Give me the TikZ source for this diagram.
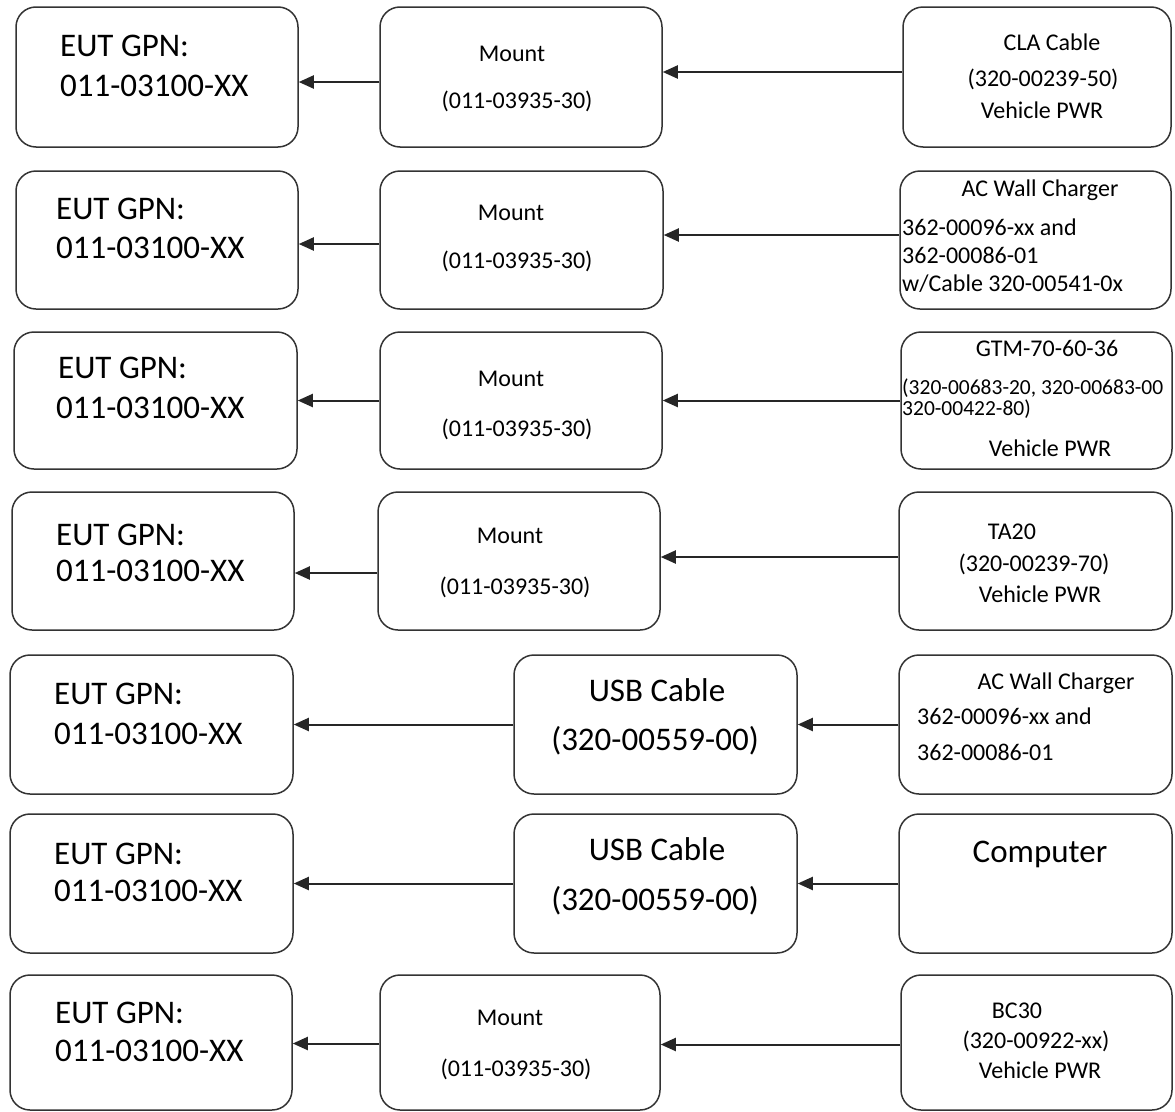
\documentclass[tikz,border=0pt]{standalone}
\usepackage{fontspec}
\setmainfont{Carlito}
\usetikzlibrary{arrows.meta,fit}
\begin{document}
\begin{tikzpicture}[x=1pt,y=-1pt,
 box/.style={draw=black!80, line width=1.5pt, rounded corners=20pt, inner sep=0pt},
 arr/.style={draw=black!85, line width=2pt, -{Triangle[length=15pt,width=13pt]}},
 eut/.style={font=\fontsize{33}{40}\selectfont, anchor=mid west, inner sep=0pt, yshift=-4pt},
 mnt/.style={font=\fontsize{24}{29}\selectfont, anchor=mid, inner sep=0pt, yshift=-4pt},
 usb/.style={font=\fontsize{33}{40}\selectfont, anchor=mid, inner sep=0pt, yshift=-4pt},
 rtc/.style={font=\fontsize{24}{29}\selectfont, anchor=mid, inner sep=0pt, yshift=-4pt},
 rtl/.style={font=\fontsize{24}{29}\selectfont, anchor=mid west, inner sep=0pt, yshift=-4pt},
 rts/.style={font=\fontsize{21.5}{25}\selectfont, anchor=mid west, inner sep=0pt, yshift=-3pt},
]
\fill[white] (0,0) rectangle (1175,1111);
\useasboundingbox (0,0) rectangle (1175,1111);

% Row 1
\node[box, fit={(16,7)(298,147)}] (l1) {};
\node[box, fit={(380,7)(662,147)}] (m1) {};
\node[box, fit={(903,7)(1171,147)}] (r1) {};
\node[eut] (l1a) at (60,50) {EUT GPN:};
\node[eut] (l1b) at (60,90) {011-03100-XX};
\node[mnt] (m1a) at (512,55) {Mount};
\node[mnt] (m1b) at (517,102) {(011-03935-30)};
\node[rtc] (r1a) at (1052,44) {CLA Cable};
\node[rtc] (r1b) at (1043,80) {(320-00239-50)};
\node[rtc] (r1c) at (1042,112) {Vehicle PWR};
\draw[arr] ([yshift=-5pt]m1.west) -- ([yshift=-5pt]l1.east);
\draw[arr] ([yshift=5pt]r1.west) -- ([yshift=5pt]m1.east);

% Row 2
\node[box, fit={(16,171)(298,309)}] (l2) {};
\node[box, fit={(380,171)(663,309)}] (m2) {};
\node[box, fit={(900,171)(1171,309)}] (r2) {};
\node[eut] (l2a) at (56,213) {EUT GPN:};
\node[eut] (l2b) at (56,252) {011-03100-XX};
\node[mnt] (m2a) at (511,214) {Mount};
\node[mnt] (m2b) at (517,262) {(011-03935-30)};
\node[rtc] (r2a) at (1040,190) {AC Wall Charger};
\node[rtl] (r2b) at (902,229) {362-00096-xx and};
\node[rtl] (r2c) at (902,257) {362-00086-01};
\node[rtl] (r2d) at (902,285) {w/Cable 320-00541-0x};
\draw[arr] ([yshift=-4pt]m2.west) -- ([yshift=-4pt]l2.east);
\draw[arr] ([yshift=5pt]r2.west) -- ([yshift=5pt]m2.east);

% Row 3
\node[box, fit={(14,332)(297,469)}] (l3) {};
\node[box, fit={(380,332)(662,469)}] (m3) {};
\node[box, fit={(901,332)(1172,469)}] (r3) {};
\node[eut] (l3a) at (58,372) {EUT GPN:};
\node[eut] (l3b) at (56,412) {011-03100-XX};
\node[mnt] (m3a) at (511,380) {Mount};
\node[mnt] (m3b) at (517,430) {(011-03935-30)};
\node[rtc] (r3a) at (1047,350) {GTM-70-60-36};
\node[rts] (r3b) at (902,389) {(320-00683-20, 320-00683-00};
\node[rts] (r3c) at (902,410) {320-00422-80)};
\node[rtc] (r3d) at (1050,450) {Vehicle PWR};
\draw[arr] (m3.west) -- (l3.east);
\draw[arr] (r3.west) -- (m3.east);

% Row 4
\node[box, fit={(12,492)(294,630)}] (l4) {};
\node[box, fit={(378,492)(660,630)}] (m4) {};
\node[box, fit={(899,492)(1172,630)}] (r4) {};
\node[eut] (l4a) at (56,539) {EUT GPN:};
\node[eut] (l4b) at (56,575) {011-03100-XX};
\node[mnt] (m4a) at (510,537) {Mount};
\node[mnt] (m4b) at (515,588) {(011-03935-30)};
\node[rtc] (r4a) at (1012,533) {TA20};
\node[rtc] (r4b) at (1034,565) {(320-00239-70)};
\node[rtc] (r4c) at (1040,596) {Vehicle PWR};
\draw[arr] ([yshift=-12pt]m4.west) -- ([yshift=-12pt]l4.east);
\draw[arr] ([yshift=4pt]r4.west) -- ([yshift=4pt]m4.east);

% Row 5
\node[box, fit={(10,655)(293,794)}] (l5) {};
\node[box, fit={(514,655)(797,794)}] (m5) {};
\node[box, fit={(899,655)(1172,794)}] (r5) {};
\node[eut] (l5a) at (54,698) {EUT GPN:};
\node[eut] (l5b) at (54,738) {011-03100-XX};
\node[usb] (m5a) at (657,695) {USB Cable};
\node[usb] (m5b) at (655,744) {(320-00559-00)};
\node[rtc] (r5a) at (1056,683) {AC Wall Charger};
\node[rtl] (r5b) at (917,718) {362-00096-xx and};
\node[rtl] (r5c) at (917,754) {362-00086-01};
\draw[arr] (m5.west) -- (l5.east);
\draw[arr] (r5.west) -- (m5.east);

% Row 6
\node[box, fit={(10,814)(293,953)}] (l6) {};
\node[box, fit={(514,814)(797,953)}] (m6) {};
\node[box, fit={(899,814)(1172,953)}] (r6) {};
\node[eut] (l6a) at (54,858) {EUT GPN:};
\node[eut] (l6b) at (54,895) {011-03100-XX};
\node[usb] (m6a) at (657,854) {USB Cable};
\node[usb] (m6b) at (655,904) {(320-00559-00)};
\node[usb] (r6a) at (1040,856) {Computer};
\draw[arr] (m6.west) -- (l6.east);
\draw[arr] (r6.west) -- (m6.east);

% Row 7
\node[box, fit={(10,975)(292,1110)}] (l7) {};
\node[box, fit={(380,975)(660,1110)}] (m7) {};
\node[box, fit={(901,975)(1172,1110)}] (r7) {};
\node[eut] (l7a) at (55,1017) {EUT GPN:};
\node[eut] (l7b) at (55,1055) {011-03100-XX};
\node[mnt] (m7a) at (510,1019) {Mount};
\node[mnt] (m7b) at (516,1070) {(011-03935-30)};
\node[rtc] (r7a) at (1017,1012) {BC30};
\node[rtc] (r7b) at (1036,1042) {(320-00922-xx)};
\node[rtc] (r7c) at (1040,1072) {Vehicle PWR};
\draw[arr] ([yshift=-1pt]m7.west) -- ([yshift=-1pt]l7.east);
\draw[arr] ([yshift=-2pt]r7.west) -- ([yshift=-2pt]m7.east);
\end{tikzpicture}
\end{document}
